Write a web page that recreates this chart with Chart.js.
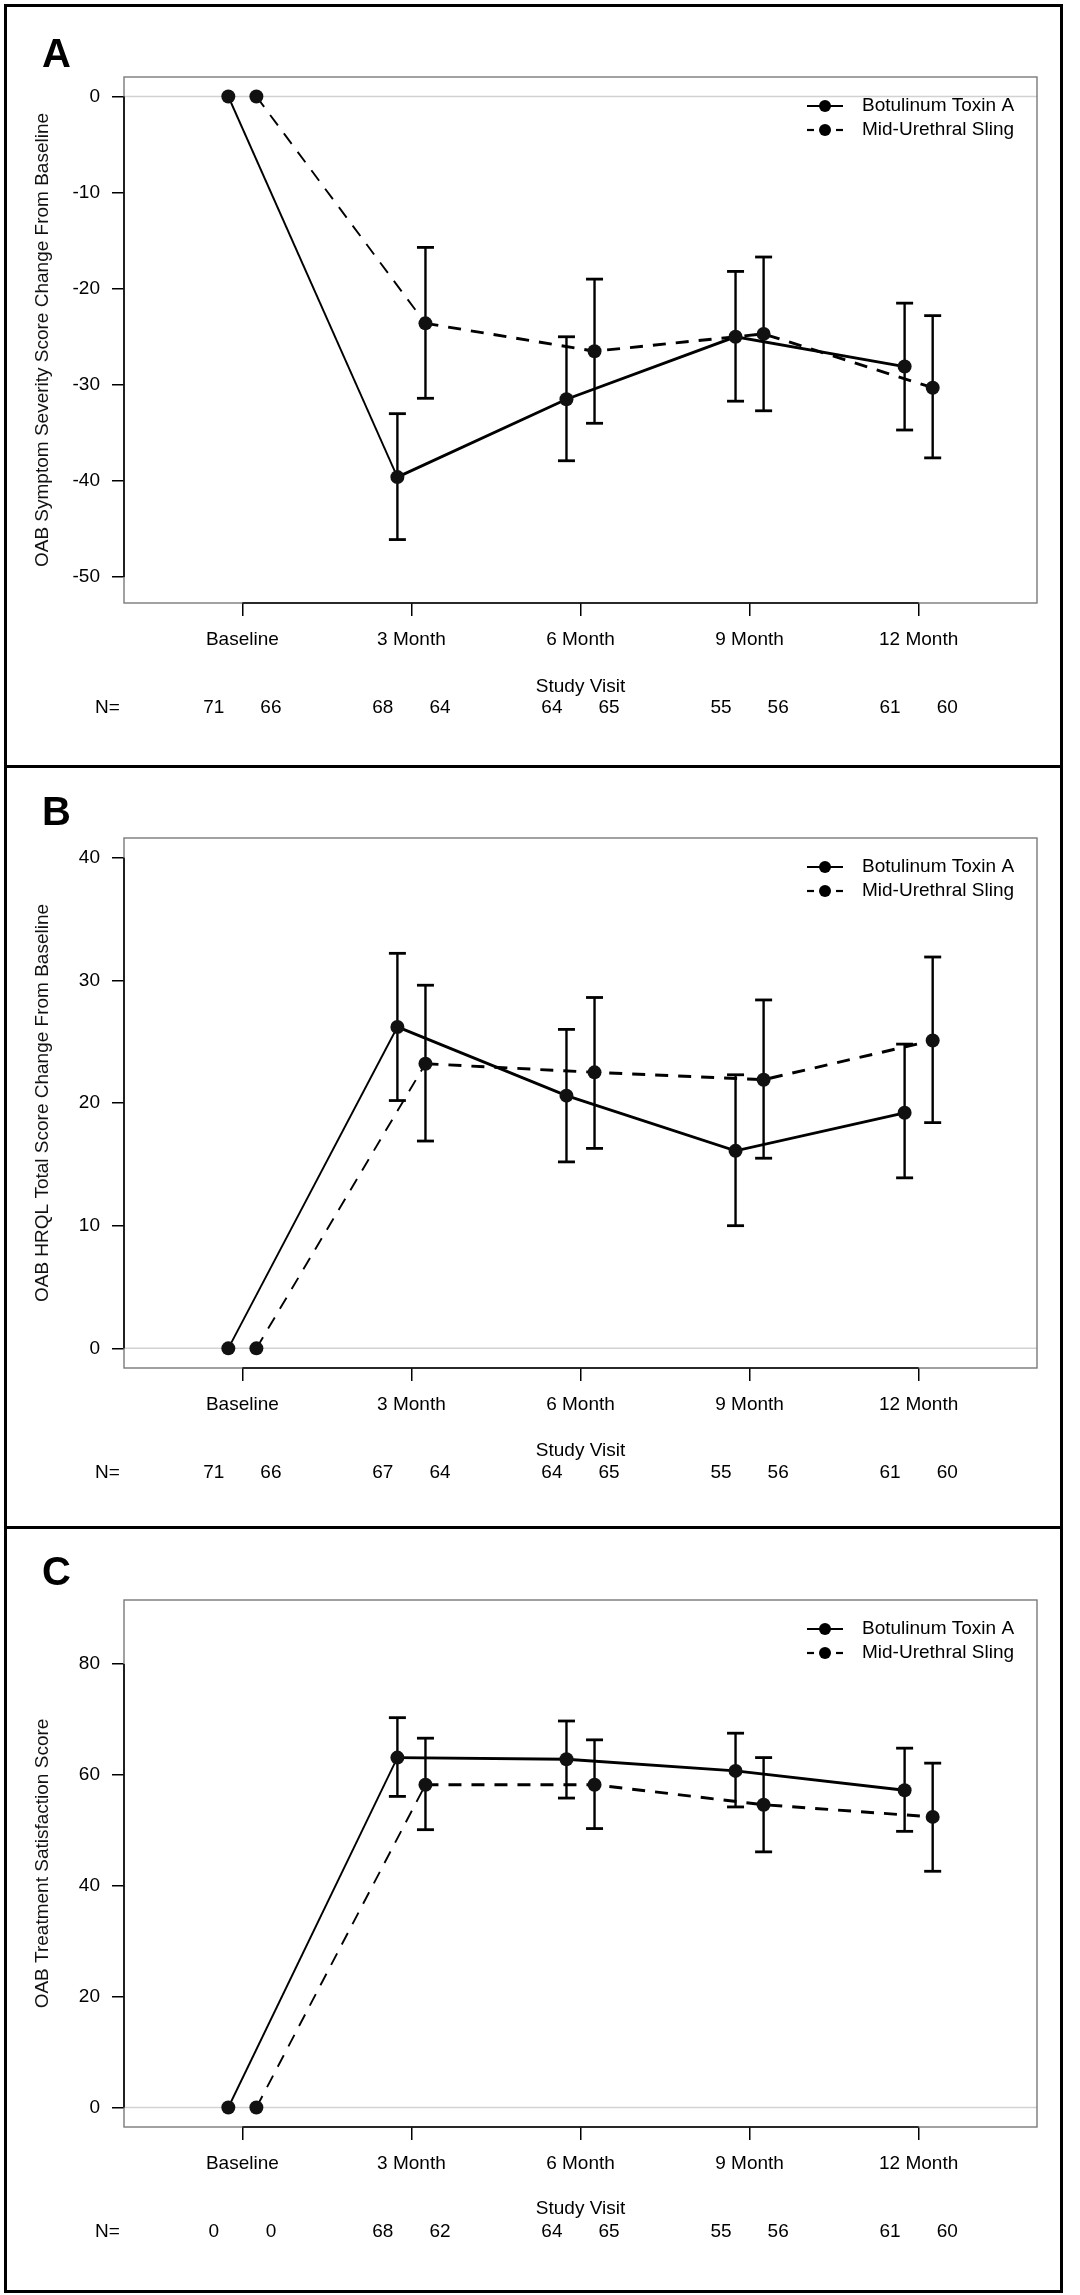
<!DOCTYPE html>
<html>
<head>
<meta charset="utf-8">
<title>OAB outcomes by study visit</title>
<script src="https://cdn.jsdelivr.net/npm/chart.js@4"></script>
<style>
  body { margin: 0; background: #fff; width: 1080px; height: 2295px; position: relative; overflow: hidden; }
  .frame { position: absolute; left: 4px; width: 1059px; border: 3px solid #000; box-sizing: border-box; }
  canvas { position: absolute; left: 0; }
</style>
</head>
<body>
<div class="frame" style="top:4px;height:764px"></div>
<div class="frame" style="top:765px;height:764px"></div>
<div class="frame" style="top:1526px;height:767px"></div>
<canvas id="chartA" width="1080" height="720" style="top:4px"></canvas>
<canvas id="chartB" width="1080" height="720" style="top:766px"></canvas>
<canvas id="chartC" width="1080" height="720" style="top:1527px"></canvas>
<script>
const visits = ['Baseline', '3 Month', '6 Month', '9 Month', '12 Month'];
const seriesNames = ['Botulinum Toxin A', 'Mid-Urethral Sling'];

// A - symptom severity change
const symptomTicks = [0, -10, -20, -30, -40, -50];
const symptomBotox   = [0, -39.6, -31.5, -25.0, -28.1];
const symptomBotoxLo = [null, -46.1, -37.9, -31.7, -34.7];
const symptomBotoxHi = [null, -33.0, -25.0, -18.2, -21.5];
const symptomSling   = [0, -23.6, -26.5, -24.7, -30.3];
const symptomSlingLo = [null, -31.4, -34.0, -32.7, -37.6];
const symptomSlingHi = [null, -15.7, -19.0, -16.7, -22.8];
const symptomNBotox = [71, 68, 64, 55, 61];
const symptomNSling = [66, 64, 65, 56, 60];

// B - HRQL total score change
const hrqlTicks = [0, 10, 20, 30, 40];
const hrqlBotox   = [0, 26.2, 20.6, 16.1, 19.2];
const hrqlBotoxLo = [null, 20.2, 15.2, 10.0, 13.9];
const hrqlBotoxHi = [null, 32.2, 26.0, 22.3, 24.8];
const hrqlSling   = [0, 23.2, 22.5, 21.9, 25.1];
const hrqlSlingLo = [null, 16.9, 16.3, 15.5, 18.4];
const hrqlSlingHi = [null, 29.6, 28.6, 28.4, 31.9];
const hrqlNBotox = [71, 67, 64, 55, 61];
const hrqlNSling = [66, 64, 65, 56, 60];

// C - treatment satisfaction
const satisTicks = [0, 20, 40, 60, 80];
const satisBotox   = [0, 63.1, 62.8, 60.7, 57.2];
const satisBotoxLo = [null, 56.1, 55.8, 54.2, 49.8];
const satisBotoxHi = [null, 70.3, 69.7, 67.5, 64.8];
const satisSling   = [0, 58.2, 58.2, 54.6, 52.4];
const satisSlingLo = [null, 50.1, 50.3, 46.1, 42.6];
const satisSlingHi = [null, 66.6, 66.3, 63.1, 62.1];
const satisNBotox = [0, 68, 64, 55, 61];
const satisNSling = [0, 62, 65, 56, 60];

const FONT = '"Liberation Sans", Arial, Helvetica, sans-serif';
const DODGE = 0.083;   // side-by-side offset of the two groups
const CANVAS_H = 720;

function points(vals, lo, hi, shift) {
    return vals.map((v, i) => ({ x: i + shift, y: v, lo: lo[i], hi: hi[i] }));
}

function line(ctx, x1, y1, x2, y2) {
    ctx.beginPath(); ctx.moveTo(x1, y1); ctx.lineTo(x2, y2); ctx.stroke();
}

// box, zero line, axis lines, error bars, legend, N row, panel letter
const decor = {
    id: 'decor',
    beforeDatasetsDraw(chart, args, opts) {
        const { ctx, chartArea: a, scales: { x, y } } = chart;
        ctx.save();
        ctx.strokeStyle = '#d2d2d2';
        ctx.lineWidth = 1.5;
        const y0 = y.getPixelForValue(0);
        line(ctx, a.left, y0, a.right, y0);

        ctx.strokeStyle = '#7a7a7a';
        ctx.lineWidth = 1.4;
        ctx.strokeRect(a.left, a.top, a.right - a.left, a.bottom - a.top);

        ctx.strokeStyle = '#000';
        ctx.lineWidth = 1.6;
        line(ctx, a.left, y.getPixelForValue(Math.min(...opts.yTicks)), a.left, y.getPixelForValue(Math.max(...opts.yTicks)));
        line(ctx, x.getPixelForValue(0), a.bottom, x.getPixelForValue(visits.length - 1), a.bottom);

        // error bars
        chart.data.datasets.forEach(ds => {
            ds.data.forEach(p => {
                if (p.lo == null) return;
                const px = x.getPixelForValue(p.x);
                const yl = y.getPixelForValue(p.lo), yh = y.getPixelForValue(p.hi);
                ctx.lineWidth = 2.4;
                line(ctx, px, yl, px, yh);
                ctx.lineWidth = 2.8;
                line(ctx, px - 8.5, yl, px + 8.5, yl);
                line(ctx, px - 8.5, yh, px + 8.5, yh);
            });
        });
        ctx.restore();
    },
    afterDraw(chart, args, opts) {
        const { ctx, chartArea: a, scales: { x } } = chart;
        ctx.save();
        ctx.fillStyle = '#000';
        ctx.strokeStyle = '#000';

        // legend
        const lx = a.right - 230, tx = a.right - 175;
        ctx.font = '19px ' + FONT;
        ctx.textBaseline = 'middle';
        ctx.textAlign = 'left';
        seriesNames.forEach((name, k) => {
            const ly = a.top + 29 + k * 24;
            ctx.lineWidth = 2.2;
            if (k === 0) {
                line(ctx, lx, ly, lx + 36, ly);
            } else {
                line(ctx, lx, ly, lx + 7, ly);
                line(ctx, lx + 29, ly, lx + 36, ly);
            }
            ctx.beginPath(); ctx.arc(lx + 18, ly, 6, 0, Math.PI * 2); ctx.fill();
            ctx.fillText(name, tx, ly);
        });

        // N row
        const ny = a.bottom + 105;
        ctx.fillText('N=', 95, ny);
        ctx.textAlign = 'center';
        visits.forEach((v, i) => {
            ctx.fillText(String(opts.nBotox[i]), x.getPixelForValue(i - 0.169), ny);
            ctx.fillText(String(opts.nSling[i]), x.getPixelForValue(i + 0.169), ny);
        });

        // panel letter
        ctx.textAlign = 'left';
        ctx.textBaseline = 'alphabetic';
        ctx.font = 'bold 40px ' + FONT;
        ctx.fillText(opts.letter, 42, opts.letterY);
        ctx.restore();
    }
};

function makeChart(id, p) {
    const axisFont = { family: FONT, size: 19 };
    const seg = { borderWidth: c => c.p0DataIndex === 0 ? 1.9 : 2.9 };
    return new Chart(document.getElementById(id), {
        type: 'line',
        data: {
            datasets: [{
                label: seriesNames[0],
                data: points(p.botox, p.botoxLo, p.botoxHi, -DODGE),
                borderColor: '#000',
                borderWidth: 2.9,
                pointRadius: 7,
                pointBackgroundColor: '#111',
                pointBorderWidth: 0,
                segment: seg
            }, {
                label: seriesNames[1],
                data: points(p.sling, p.slingLo, p.slingHi, DODGE),
                borderColor: '#000',
                borderWidth: 2.9,
                borderDash: [13, 10],
                pointRadius: 7,
                pointBackgroundColor: '#111',
                pointBorderWidth: 0,
                segment: seg
            }]
        },
        options: {
            responsive: false,
            animation: false,
            layout: { padding: { top: p.plotTop - p.top, right: 43, left: 0, bottom: 0 } },
            plugins: {
                legend: { display: false },
                tooltip: { enabled: false },
                decor: { yTicks: p.yTicks, nBotox: p.nBotox, nSling: p.nSling, letter: p.letter, letterY: p.letterY - p.top }
            },
            scales: {
                x: {
                    type: 'linear',
                    min: -0.7,
                    max: 4.7,
                    afterBuildTicks: s => { s.ticks = visits.map((v, i) => ({ value: i })); },
                    afterFit: s => { s.height = CANVAS_H - (p.plotBottom - p.top); },
                    ticks: { callback: v => visits[v], font: axisFont, color: '#000', padding: 12, autoSkip: false, maxRotation: 0 },
                    grid: { drawOnChartArea: false, tickLength: 13, color: '#000', lineWidth: 1.5 },
                    border: { display: false },
                    title: { display: true, text: 'Study Visit', font: axisFont, color: '#000',
                             padding: { top: 0, bottom: CANVAS_H - (p.studyY - p.top) - 11.4 } }
                },
                y: {
                    min: p.yMin,
                    max: p.yMax,
                    afterBuildTicks: s => { s.ticks = p.yTicks.map(v => ({ value: v })); },
                    afterFit: s => { s.width = 124; },
                    ticks: { font: axisFont, color: '#000', padding: 12 },
                    grid: { drawOnChartArea: false, tickLength: 12, color: '#000', lineWidth: 1.5 },
                    border: { display: false },
                    title: { display: true, text: p.yTitle, font: axisFont, color: '#111', padding: { top: 31.6, bottom: 0 } }
                }
            }
        },
        plugins: [decor]
    });
}

makeChart('chartA', {
    top: 4, plotTop: 77, plotBottom: 603, studyY: 687, letter: 'A', letterY: 67,
    yMin: -52.7, yMax: 2.03, yTicks: symptomTicks,
    yTitle: 'OAB Symptom Severity Score Change From Baseline',
    botox: symptomBotox, botoxLo: symptomBotoxLo, botoxHi: symptomBotoxHi,
    sling: symptomSling, slingLo: symptomSlingLo, slingHi: symptomSlingHi,
    nBotox: symptomNBotox, nSling: symptomNSling
});

makeChart('chartB', {
    top: 766, plotTop: 838, plotBottom: 1368, studyY: 1451, letter: 'B', letterY: 825,
    yMin: -1.6, yMax: 41.6, yTicks: hrqlTicks,
    yTitle: 'OAB HRQL Total Score Change From Baseline',
    botox: hrqlBotox, botoxLo: hrqlBotoxLo, botoxHi: hrqlBotoxHi,
    sling: hrqlSling, slingLo: hrqlSlingLo, slingHi: hrqlSlingHi,
    nBotox: hrqlNBotox, nSling: hrqlNSling
});

makeChart('chartC', {
    top: 1527, plotTop: 1600, plotBottom: 2127, studyY: 2209, letter: 'C', letterY: 1585,
    yMin: -3.52, yMax: 91.52, yTicks: satisTicks,
    yTitle: 'OAB Treatment Satisfaction Score',
    botox: satisBotox, botoxLo: satisBotoxLo, botoxHi: satisBotoxHi,
    sling: satisSling, slingLo: satisSlingLo, slingHi: satisSlingHi,
    nBotox: satisNBotox, nSling: satisNSling
});
</script>
</body>
</html>
